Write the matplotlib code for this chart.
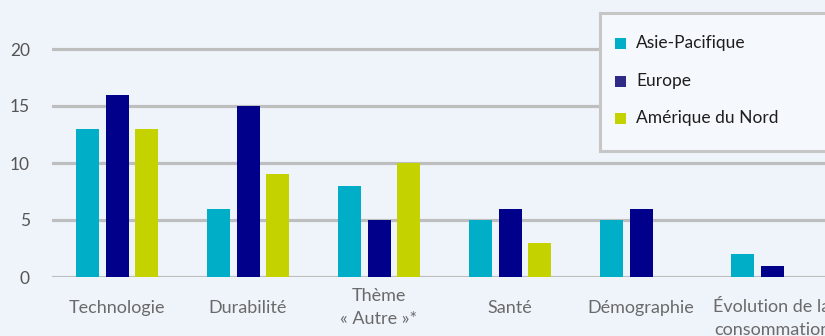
import numpy as np
import matplotlib
matplotlib.use("Agg")
import matplotlib.pyplot as plt
from matplotlib.patches import Rectangle

categories = ["Technologie", "Durabilité", "Thème\n« Autre »*", "Santé",
              "Démographie", "Évolution de la\nconsommation"]
series_names = ["Asie-Pacifique", "Europe", "Amérique du Nord"]
asie_pacifique = [13, 6, 8, 5, 5, 2]
europe = [16, 15, 5, 6, 6, 1]
amerique_du_nord = [13, 9, 10, 3, 0, 0]
y_ticks = [0, 5, 10, 15, 20]

colors = ["#00afc7", "#00008a", "#c4d200"]
legend_colors = ["#00afc7", "#2e2a86", "#c4d200"]
bg = "#eff4fb"

plt.rcParams["font.family"] = ["Lato", "DejaVu Sans"]

W, H = 825, 336
fig = plt.figure(figsize=(W / 100, H / 100), dpi=100, facecolor=bg)

ax_left, ax_bottom_px, ax_top_px = 52, 277, 0
ax = fig.add_axes([ax_left / W, (H - ax_bottom_px) / H, 1 - ax_left / W,
                   (ax_bottom_px - ax_top_px) / H])
ax.set_facecolor(bg)

px_per_unit = 57 / 5
ax.set_ylim(0, (ax_bottom_px - ax_top_px) / px_per_unit)
x = np.arange(len(categories))
group_px = 131
ax.set_xlim(-(117 - ax_left) / group_px, (W - 117) / group_px)

offset = 29.5 / group_px
width = 23 / group_px
for i, vals in enumerate([asie_pacifique, europe, amerique_du_nord]):
    ax.bar(x + (i - 1) * offset, vals, width, color=colors[i], zorder=3,
           label=series_names[i])

# horizontal grid
for t in y_ticks:
    ax.axhline(t, color="#bebebe", lw=2.3, zorder=2)

for s in ax.spines.values():
    s.set_visible(False)

ax.set_yticks(y_ticks)
ax.set_yticklabels([str(t) for t in y_ticks], fontsize=12.5, color="#555555")
ax.tick_params(axis="y", length=0, pad=16)

ax.set_xticks(x)
labels = ax.set_xticklabels(categories, fontsize=13, color="#6a6a6a",
                            va="center", linespacing=1.5)
ax.tick_params(axis="x", length=0, pad=22)
labels[-1].set_y(-11 / (ax_bottom_px - ax_top_px))

# legend box
box_l, box_t, box_b = 600, 13, 151
fig.patches.append(Rectangle((box_l / W, (H - box_b) / H), (W + 20 - box_l) / W,
                             (box_b - box_t) / H, transform=fig.transFigure,
                             facecolor="#f5f8fd", edgecolor="#c6c6c6",
                             lw=2.2, zorder=5))
rows = [43, 81, 118]
for name, c, yy in zip(series_names, legend_colors, rows):
    fig.patches.append(Rectangle((615 / W, (H - yy - 5.5) / H), 11 / W, 11 / H,
                                 transform=fig.transFigure, facecolor=c,
                                 edgecolor="none", zorder=6))
    fig.text(636 / W, (H - yy) / H, name, fontsize=12.5, color="#1e1e1e",
             va="center", ha="left", zorder=7)

fig.savefig("out.png", dpi=100, facecolor=bg)
